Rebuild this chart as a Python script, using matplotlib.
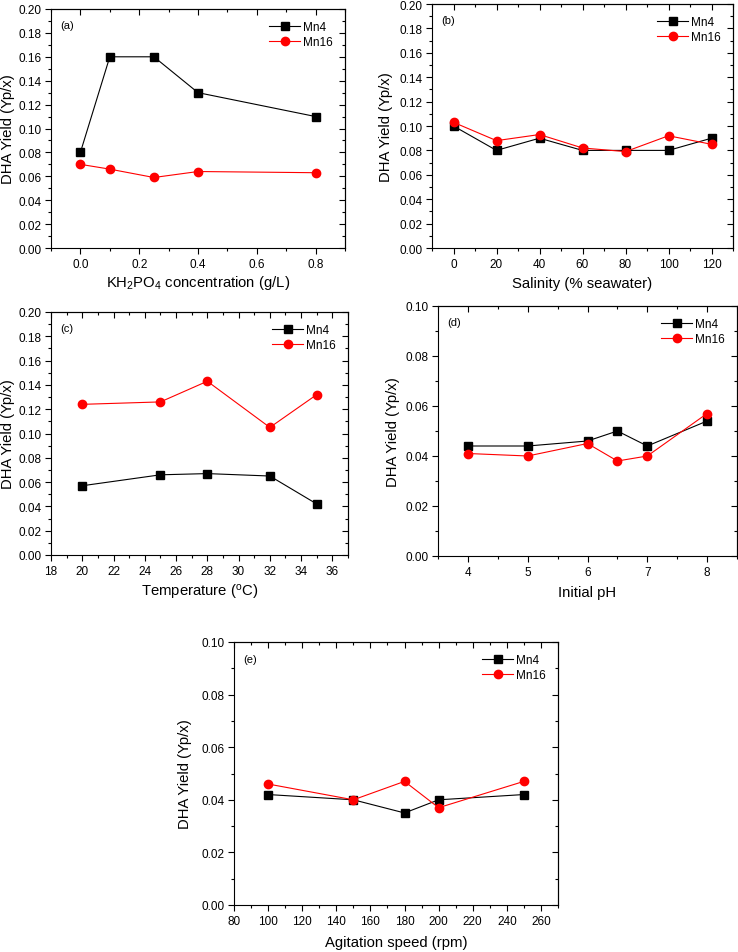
import matplotlib
matplotlib.use("Agg")
import matplotlib.pyplot as plt
from matplotlib.ticker import MultipleLocator, FormatStrFormatter

plt.rcParams['font.family'] = ['Liberation Sans', 'DejaVu Sans']
plt.rcParams['mathtext.fontset'] = 'custom'
plt.rcParams['mathtext.rm'] = 'Liberation Sans'
plt.rcParams['mathtext.it'] = 'Liberation Sans:italic'

# (a) KH2PO4
kh_x = [0, 0.1, 0.25, 0.4, 0.8]
kh_mn4 = [0.080, 0.160, 0.160, 0.130, 0.110]
kh_mn16 = [0.070, 0.066, 0.059, 0.064, 0.063]

# (b) salinity
sal_x = [0, 20, 40, 60, 80, 100, 120]
sal_mn4 = [0.100, 0.080, 0.090, 0.080, 0.080, 0.080, 0.090]
sal_mn16 = [0.103, 0.088, 0.093, 0.082, 0.079, 0.092, 0.085]

# (c) temperature
temp_x = [20, 25, 28, 32, 35]
temp_mn4 = [0.057, 0.066, 0.067, 0.065, 0.042]
temp_mn16 = [0.124, 0.126, 0.143, 0.105, 0.132]

# (d) initial pH
ph_x = [4, 5, 6, 6.5, 7, 8]
ph_mn4 = [0.044, 0.044, 0.046, 0.050, 0.044, 0.054]
ph_mn16 = [0.041, 0.040, 0.045, 0.038, 0.040, 0.057]

# (e) agitation
rpm_x = [100, 150, 180, 200, 250]
rpm_mn4 = [0.042, 0.040, 0.035, 0.040, 0.042]
rpm_mn16 = [0.046, 0.040, 0.047, 0.037, 0.047]

W, H = 738, 953
fig = plt.figure(figsize=(W / 100, H / 100), dpi=100)


def px_axes(left, top, right, bottom):
    return fig.add_axes([left / W, 1 - bottom / H, (right - left) / W, (bottom - top) / H])


def panel(box, x, mn4, mn16, xlim, xmaj, xmin, xfmt, ymax, xlabel, tag, ylab_px, xlab_px):
    ax = px_axes(*box)
    ax.plot(x, mn4, '-', color='black', lw=0.8, marker='s', ms=5.2, mfc='black', mec='black', label='Mn4')
    ax.plot(x, mn16, '-', color='red', lw=0.8, marker='o', ms=6, mfc='red', mec='red', label='Mn16')
    ax.set_xlim(*xlim)
    ax.set_ylim(0, ymax)
    ax.xaxis.set_major_locator(MultipleLocator(xmaj))
    ax.xaxis.set_minor_locator(MultipleLocator(xmin))
    ax.xaxis.set_major_formatter(FormatStrFormatter(xfmt))
    ax.yaxis.set_major_locator(MultipleLocator(0.02))
    ax.yaxis.set_minor_locator(MultipleLocator(0.01))
    ax.yaxis.set_major_formatter(FormatStrFormatter('%.2f'))
    ax.tick_params(which='both', direction='out', top=False, right=False, labelsize=8.5, width=0.8)
    ax.tick_params(which='major', length=4, pad=3)
    ax.tick_params(which='minor', length=2)
    # mirrored inward ticks on top and right
    sx = ax.secondary_xaxis('top')
    sx.xaxis.set_major_locator(MultipleLocator(xmaj))
    sx.xaxis.set_minor_locator(MultipleLocator(xmin))
    sx.tick_params(which='both', direction='in', labeltop=False, width=0.8)
    sx.tick_params(which='major', length=4)
    sx.tick_params(which='minor', length=2)
    sy = ax.secondary_yaxis('right')
    sy.yaxis.set_major_locator(MultipleLocator(0.02))
    sy.yaxis.set_minor_locator(MultipleLocator(0.01))
    sy.tick_params(which='both', direction='in', labelright=False, width=0.8)
    sy.tick_params(which='major', length=4)
    sy.tick_params(which='minor', length=2)
    for s in ax.spines.values():
        s.set_linewidth(0.8)
    ax.set_xlabel(xlabel, fontsize=10.7)
    ax.set_ylabel('DHA Yield (Yp/x)', fontsize=10.7)
    left, top, right, bottom = box
    ax.yaxis.set_label_coords((ylab_px - left) / (right - left), 0.5)
    ax.xaxis.set_label_coords(0.5, (bottom - xlab_px) / (bottom - top))
    ax.xaxis.label.set_va('center')
    ax.yaxis.label.set_va('center')
    ax.text(0.03, 0.935, tag, transform=ax.transAxes, fontsize=8, va='center', ha='left')
    ax.legend(loc='upper right', frameon=False, fontsize=8.5, handlelength=2.6,
              handletextpad=0.3, labelspacing=0.25, borderaxespad=0.6)
    return ax


panel((51, 10, 345, 249), kh_x, kh_mn4, kh_mn16, (-0.1, 0.9), 0.2, 0.1, '%.1f', 0.20,
      r'KH$_2$PO$_4$ concentration (g/L)', '(a)', 8, 283)
panel((432, 5, 733, 249), sal_x, sal_mn4, sal_mn16, (-10, 130), 20, 10, '%d', 0.20,
      'Salinity (% seawater)', '(b)', 386, 284)
panel((51, 313, 348, 556), temp_x, temp_mn4, temp_mn16, (18, 37), 2, 1, '%d', 0.20,
      r'Temperature ($^{\rm o}$C)', '(c)', 8, 593)
panel((438, 307, 737, 557), ph_x, ph_mn4, ph_mn16, (3.5, 8.5), 1, 0.5, '%d', 0.10,
      'Initial pH', '(d)', 393, 593)
panel((234, 643, 558, 906), rpm_x, rpm_mn4, rpm_mn16, (80, 270), 20, 10, '%d', 0.10,
      'Agitation speed (rpm)', '(e)', 185, 943)

fig.savefig('out.png', dpi=100)
